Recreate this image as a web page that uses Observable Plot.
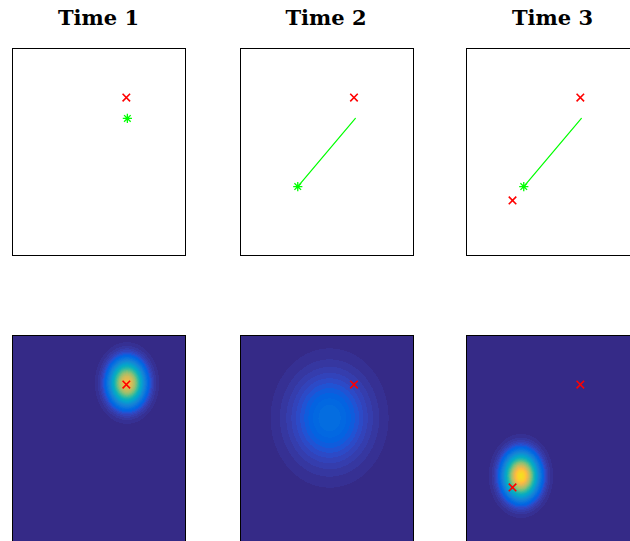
<!DOCTYPE html>
<html>
<head>
<meta charset="utf-8">
<script src="https://cdn.jsdelivr.net/npm/d3@7"></script>
<script src="https://cdn.jsdelivr.net/npm/@observablehq/plot@0.6"></script>
<style>
  html, body { margin: 0; padding: 0; background: #fff; }
  body { width: 630px; height: 541px; position: relative; overflow: hidden; }
  .title { position: absolute; top: 4px; width: 173px; text-align: center;
           font-family: "DejaVu Serif", serif; font-weight: bold; font-size: 21px; line-height: 28px; color: #000; }
  .panel { position: absolute; width: 175px; height: 209px; }
  .panel svg { display: block; max-width: none !important; }
</style>
</head>
<body>
<script>
// ---- data ----
const titles = ["Time 1", "Time 2", "Time 3"];
// observations (red x) shown in each time step, unit square, y up
const obsX = [[0.658], [0.656], [0.658, 0.266]];
const obsY = [[0.763], [0.763], [0.763, 0.266]];
// estimated track (green)
const trackX = [0.664, 0.331];
const trackY = [0.662, 0.333];
// how many track points are shown at each time step
const trackLen = [1, 2, 2];
// belief gaussians (bottom row): centre, spread, peak
const blobCx = [0.659, 0.512, 0.312];
const blobCy = [0.768, 0.599, 0.319];
const blobSx = [0.066, 0.156, 0.065];
const blobSy = [0.070, 0.154, 0.071];
const blobPeak = [0.82, 0.17, 0.93];

// parula colormap (64 entries)
const parula = ["#352a87","#363093","#3637a0","#353dad","#3243ba","#2c4ac7","#2053d4","#0f5cdd",
"#0363e1","#0268e1","#046de0","#0871de","#0d75dc","#1079da","#127dd8","#1481d6",
"#1485d4","#1389d3","#108ed2","#0c93d2","#0998d1","#079ccf","#06a0cd","#06a4ca",
"#06a7c6","#07a9c2","#0aacbe","#0faeb9","#15b1b4","#1db3af","#25b5a9","#2eb7a4",
"#38b99e","#42bb98","#4dbc92","#59bd8c","#65be86","#71bf80","#7cbf7b","#87bf77",
"#92bf73","#9cbf6f","#a5be6b","#aebe67","#b7bd64","#c0bc60","#c8bc5d","#d1bb59",
"#d9ba56","#e1b952","#e9b94e","#f1b94a","#f8bb44","#fdbe3d","#ffc337","#fec832",
"#fcce2e","#fad32a","#f7d826","#f5de21","#f5e41d","#f5eb18","#f6f313","#f9fb0e"];

const panelLeft = [11, 238.5, 465];
const topRow = 47, bottomRow = 334;
const PW = 173, PH = 207;

const asterisk = {
  draw(ctx, size) {
    const r = Math.sqrt(size / Math.PI);
    const d = r * 0.72;
    ctx.moveTo(0, -r); ctx.lineTo(0, r);
    ctx.moveTo(-r, 0); ctx.lineTo(r, 0);
    ctx.moveTo(-d, -d); ctx.lineTo(d, d);
    ctx.moveTo(-d, d); ctx.lineTo(d, -d);
  }
};

function place(node, left, top) {
  const div = document.createElement("div");
  div.className = "panel";
  div.style.left = left + "px";
  div.style.top = top + "px";
  div.appendChild(node);
  document.body.appendChild(div);
}

const common = {
  width: PW + 2, height: PH + 2, margin: 1,
  style: {maxWidth: "none"},
  x: {domain: [0, 1], axis: null},
  y: {domain: [0, 1], axis: null}
};

for (let t = 0; t < 3; t++) {
  const tdiv = document.createElement("div");
  tdiv.className = "title";
  tdiv.style.left = (panelLeft[t] + 1) + "px";
  tdiv.textContent = titles[t];
  document.body.appendChild(tdiv);

  const obs = obsX[t].map((x, i) => ({x, y: obsY[t][i]}));
  const track = trackX.slice(0, trackLen[t]).map((x, i) => ({x, y: trackY[i]}));
  const last = [track[track.length - 1]];

  const top = Plot.plot({
    ...common,
    marks: [
      Plot.line(track, {x: "x", y: "y", stroke: "#00ff00", strokeWidth: 1.2}),
      Plot.dot(last, {x: "x", y: "y", symbol: asterisk, r: 4.6, stroke: "#00ff00", strokeWidth: 1.3, fill: "none"}),
      Plot.dot(obs, {x: "x", y: "y", symbol: "times", r: 3.5, stroke: "#ff0000", strokeWidth: 1.6}),
      Plot.frame({stroke: "#000", strokeWidth: 1})
    ]
  });
  place(top, panelLeft[t], topRow);

  const cx = blobCx[t], cy = blobCy[t], sx = blobSx[t], sy = blobSy[t], a = blobPeak[t];
  const bottom = Plot.plot({
    ...common,
    color: {type: "threshold", domain: d3.range(1, 64).map(i => i / 64), range: parula},
    marks: [
      Plot.raster({
        x1: 0, x2: 1, y1: 0, y2: 1, width: PW, height: PH,
        fill: (x, y) => a * Math.exp(-((x - cx) ** 2) / (2 * sx * sx) - ((y - cy) ** 2) / (2 * sy * sy)),
        imageRendering: "pixelated"
      }),
      Plot.dot(obs, {x: "x", y: "y", symbol: "times", r: 3.5, stroke: "#ff0000", strokeWidth: 1.6}),
      Plot.frame({stroke: "#000", strokeWidth: 1})
    ]
  });
  place(bottom, panelLeft[t], bottomRow);
}
</script>
</body>
</html>
